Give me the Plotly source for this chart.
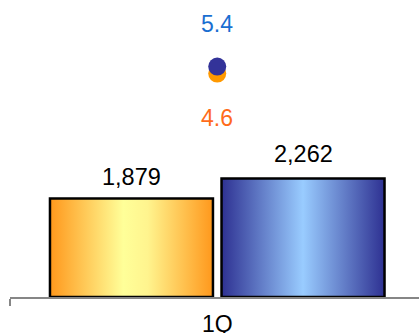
import plotly.graph_objects as go

# ---- data ----
categories = ["1Q"]
sales_a = [1879]     # orange bars
sales_b = [2262]     # blue bars
ratio_a = [4.6]      # orange dots
ratio_b = [5.4]      # blue dots

ORANGE_SCALE = [[0, "#FF981C"], [0.45, "#FFFF99"], [0.6, "#FFF48E"], [1, "#FF981C"]]
BLUE_SCALE = [[0, "#2E3192"], [0.5, "#99CCFF"], [1, "#2E3192"]]
FONT = "Liberation Sans, Arial, sans-serif"
W = 0.475
OFF_A, OFF_B = -0.25, 0.25

fig = go.Figure()


def add_bars(values, off, scale, shift):
    for i, v in enumerate(values):
        x0, x1 = i + off - W / 2, i + off + W / 2
        fig.add_trace(go.Scatter(
            x=[x0, x1, x1, x0, x0], y=[0, 0, v, v, 0],
            fill="toself",
            fillgradient=dict(type="horizontal", colorscale=scale),
            mode="lines", line=dict(color="black", width=2.5),
            hoverinfo="skip", showlegend=False, cliponaxis=False))
        fig.add_annotation(x=i + off, y=v, xref="x", yref="y",
                           text=f"{v:,}", showarrow=False,
                           yanchor="middle", yshift=shift,
                           font=dict(family=FONT, size=23.5, color="black"))


add_bars(sales_a, OFF_A, ORANGE_SCALE, 22)
add_bars(sales_b, OFF_B, BLUE_SCALE, 25)

xs = list(range(len(categories)))
fig.add_trace(go.Scatter(x=xs, y=ratio_a, yaxis="y2", mode="markers",
                         marker=dict(size=18, color="#FF9900"),
                         showlegend=False, hoverinfo="skip"))
fig.add_trace(go.Scatter(x=xs, y=ratio_b, yaxis="y2", mode="markers",
                         marker=dict(size=18, color="#333399"),
                         showlegend=False, hoverinfo="skip"))
for i, r in enumerate(ratio_b):
    fig.add_annotation(x=i, y=r, xref="x", yref="y2", text=f"{r}",
                       showarrow=False, yanchor="middle", yshift=43,
                       font=dict(family=FONT, size=23, color="#1A6FD1"))
for i, r in enumerate(ratio_a):
    fig.add_annotation(x=i, y=r, xref="x", yref="y2", text=f"{r}",
                       showarrow=False, yanchor="middle", yshift=-44,
                       font=dict(family=FONT, size=23, color="#FF6B1A"))

XMIN, XMAX = -0.604, 0.588
fig.update_layout(
    width=419, height=333,
    margin=dict(l=10, r=0, t=0, b=36, autoexpand=False),
    paper_bgcolor="white", plot_bgcolor="white",
    xaxis=dict(range=[XMIN, XMAX], tickvals=xs, ticktext=categories,
               showgrid=False, zeroline=False, showline=True,
               linecolor="#868686", linewidth=1.5, ticks="",
               ticklabelstandoff=6,
               tickfont=dict(family=FONT, size=23, color="black"),
               minor=dict(tickvals=[XMIN], ticks="outside", ticklen=7,
                          tickcolor="#868686", tickwidth=1.5),
               automargin=False, fixedrange=True),
    yaxis=dict(range=[0, 5670], visible=False, fixedrange=True),
    yaxis2=dict(range=[-20.9, 13.0], overlaying="y", visible=False,
                fixedrange=True),
)

fig.write_html("out.html", config={"displayModeBar": False})
